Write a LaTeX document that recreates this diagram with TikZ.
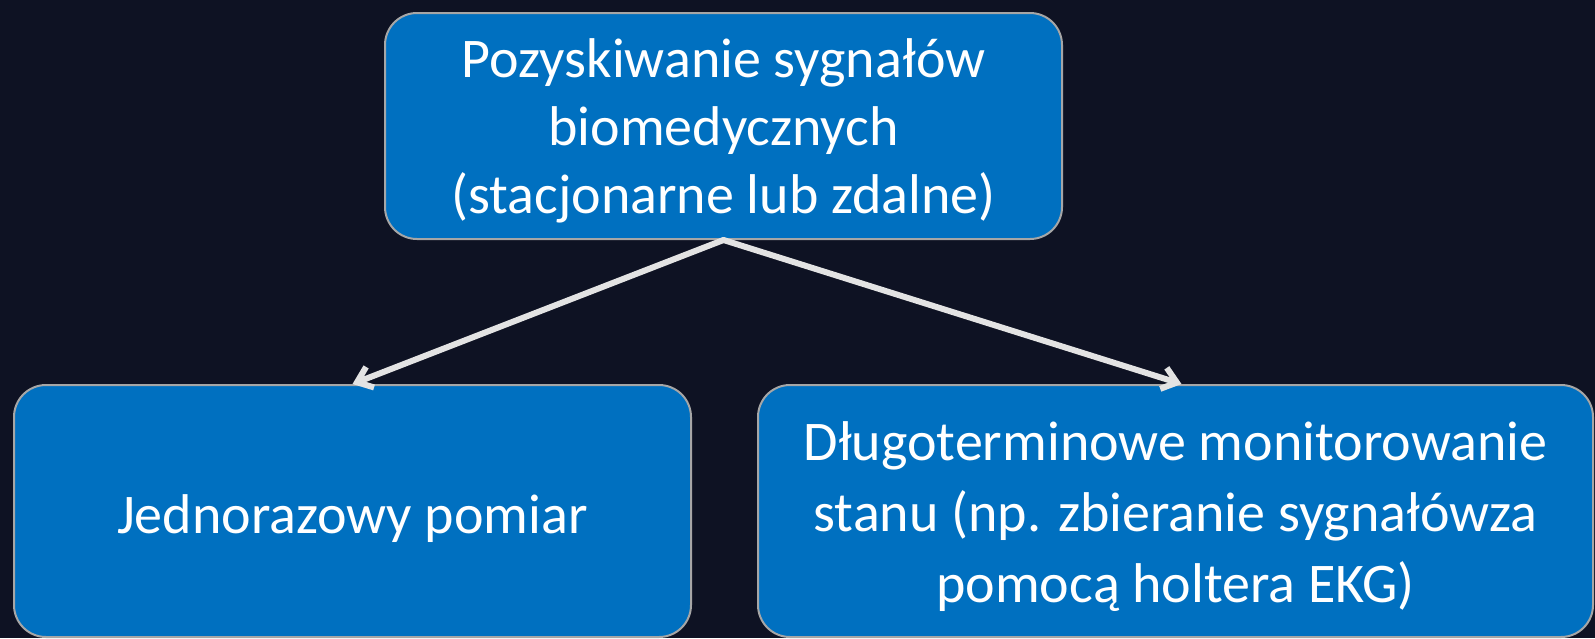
\documentclass[tikz,border=0pt]{standalone}
\usepackage{fontspec}
\setmainfont{Carlito}
\usetikzlibrary{arrows.meta}
\definecolor{bgc}{HTML}{0E1223}
\definecolor{boxfill}{HTML}{0070C0}
\definecolor{boxline}{HTML}{A6A6A6}
\definecolor{arrc}{HTML}{E3E3E3}
\tikzset{
  box/.style={draw=boxline, line width=2pt, fill=boxfill, rounded corners=32pt,
    inner sep=0pt},
  boxtext/.style={text=white, align=center, inner sep=0pt},
  conn/.style={draw=arrc, line width=6pt, line cap=round,
    -{Straight Barb[length=14pt,width=22pt,line width=6pt]}}
}
\begin{document}
\begin{tikzpicture}[x=1pt,y=-1pt]
\fill[bgc] (0,0) rectangle (1595,638);
\useasboundingbox (0,0) rectangle (1595,638);
\node[box, minimum width=677pt, minimum height=226pt] (top) at (723.5,126) {};
\node[box, minimum width=677pt, minimum height=252pt] (left) at (352.5,511) {};
\node[box, minimum width=835pt, minimum height=252pt] (right) at (1175.5,511) {};
\node[boxtext, font=\fontsize{56}{68}\selectfont] (toptext) at ([yshift=-5pt]top.center)
  {Pozyskiwanie sygnałów\\biomedycznych\\(stacjonarne lub zdalne)};
\node[boxtext, font=\fontsize{56}{68}\selectfont] (lefttext) at ([yshift=-8pt]left.center)
  {Jednorazowy pomiar};
\node[boxtext, font=\fontsize{56}{71}\selectfont] (righttext) at ([yshift=-6pt]right.center)
  {Długoterminowe monitorowanie\\stanu (np. zbieranie sygnałówza\\pomocą holtera EKG)};
\draw[conn] (top.south) -- (left.north);
\draw[conn] (top.south) -- ([xshift=6pt]right.north);
\end{tikzpicture}
\end{document}
